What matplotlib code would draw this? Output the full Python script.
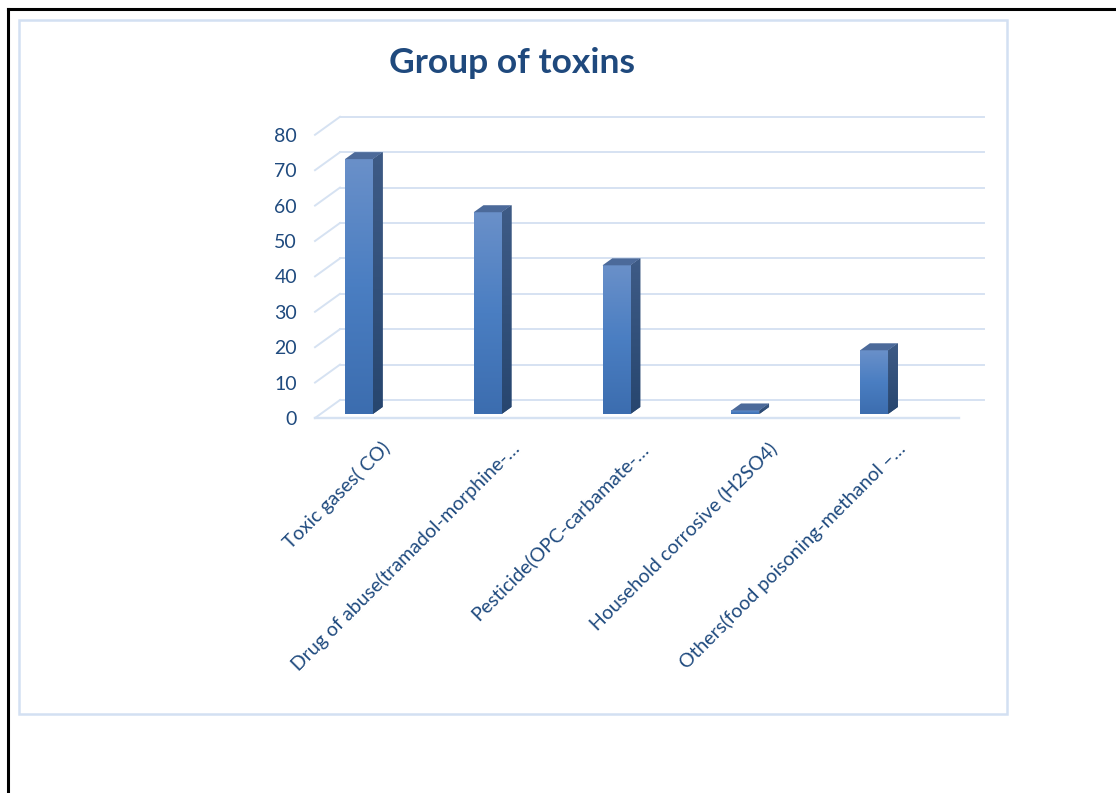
"""
Group of toxins: 3-D style column chart drawn on a flat axes.
"""

import matplotlib

matplotlib.use("Agg")
import matplotlib.pyplot as plt
import numpy as np
from matplotlib.colors import LinearSegmentedColormap
from matplotlib.lines import Line2D
from matplotlib.patches import Polygon, Rectangle

plt.rcParams["font.family"] = ["Lato", "DejaVu Sans"]

categories = [
    "Toxic gases( CO)",
    "Drug of abuse(tramadol-morphine-\u2026",
    "Pesticide(OPC-carbamate-\u2026",
    "Household corrosive (H2SO4)",
    "Others(food poisoning-methanol \u2013\u2026",
]
counts = [72, 57, 42, 1, 18]
y_ticks = [0, 10, 20, 30, 40, 50, 60, 70, 80]

TEXT_BLUE = "#1F4A7E"
GRID = "#D6E2F2"

# figure is 1116 x 793 px; layout below is in pixels
W, H = 1116, 793
PX_CAT = 128.8  # pixels per category
PX_VAL = 3.54  # pixels per unit value
# oblique depth: back wall sits 25 px right and 18 px up of the front plane
DX = 25 / PX_CAT
DY = 18 / PX_VAL
D_FRONT, D_BACK = 4 / 18, 11 / 18  # bar depth range (0 = front, 1 = back)
BAR_W = 28 / PX_CAT
FLOOR = (-0.298, 4.702)


def proj(x, v, d):
    return x + d * DX, v + d * DY


fig = plt.figure(figsize=(W / 100, H / 100), dpi=100)

# frame lines and chart-area border
fig.add_artist(Line2D([8 / W, 8 / W], [0, 1 - 9 / H], color="black", lw=2.2,
                      transform=fig.transFigure))
fig.add_artist(Line2D([8 / W, 1], [1 - 9 / H, 1 - 9 / H], color="black", lw=2.2,
                      transform=fig.transFigure))
fig.add_artist(Rectangle((19 / W, 1 - 714 / H), (1007 - 19) / W, (714 - 20) / H,
                         fill=False, ec="#D3E0F2", lw=1.8, transform=fig.transFigure))

ax_l, ax_r, ax_t, ax_b = 315, 983, 117, 418
ax = fig.add_axes([ax_l / W, 1 - ax_b / H, (ax_r - ax_l) / W, (ax_b - ax_t) / H])
xlim = (FLOOR[0], FLOOR[0] + (ax_r - ax_l) / PX_CAT)
ylim = (0, (ax_b - ax_t) / PX_VAL)

# back wall gridlines and left wall diagonals
for v in y_ticks:
    x0, y0 = proj(FLOOR[0], v, 1)
    x1, y1 = proj(FLOOR[1], v, 1)
    ax.plot([x0, x1], [y0, y1], color=GRID, lw=1.4, clip_on=False, zorder=1)
    fx, fy = proj(FLOOR[0], v, 0)
    ax.plot([fx, x0], [fy, y0], color=GRID, lw=1.4, clip_on=False, zorder=1)
# front floor edge
ax.plot(FLOOR, [0, 0], color=GRID, lw=1.7, clip_on=False, zorder=1)

front_cmap = LinearSegmentedColormap.from_list("front", ["#3C6DAF", "#4A7EC2", "#6A90C9"])
side_cmap = LinearSegmentedColormap.from_list("side", ["#27466F", "#3E5B86"])
grad = np.linspace(0, 1, 256).reshape(-1, 1)

xs = np.arange(len(counts)) + D_FRONT * DX
base = D_FRONT * DY
bars = ax.bar(xs, counts, width=BAR_W, bottom=base, color="#4A7EC2",
              linewidth=0, zorder=3, clip_on=False)
dd = D_BACK - D_FRONT
for bar, x, v in zip(bars, xs, counts):
    xl, xr = x - BAR_W / 2, x + BAR_W / 2
    top = base + v
    img = ax.imshow(grad, cmap=front_cmap, origin="lower", aspect="auto",
                    extent=(xl, xr, base, top), zorder=3, interpolation="bilinear")
    img.set_clip_path(bar)
    side = Polygon([(xr, base), (xr + dd * DX, base + dd * DY),
                    (xr + dd * DX, top + dd * DY), (xr, top)], closed=True,
                   fc="#2F4E79", ec="none", zorder=2.9, clip_on=False)
    ax.add_patch(side)
    simg = ax.imshow(grad, cmap=side_cmap, origin="lower", aspect="auto",
                     extent=(xr, xr + dd * DX, base, top + dd * DY), zorder=2.95,
                     interpolation="bilinear")
    simg.set_clip_path(side)
    ax.add_patch(Polygon([(xl, top), (xr, top), (xr + dd * DX, top + dd * DY),
                          (xl + dd * DX, top + dd * DY)], closed=True,
                         fc="#4C6A9A", ec="none", zorder=3.1, clip_on=False))

# rotated category labels hang below each column
for x, label in zip(xs, categories):
    ax.text(x + 33 / PX_CAT, -31.5 / PX_VAL, label, rotation=45, rotation_mode="anchor",
            ha="right", va="baseline", fontsize=14, color=TEXT_BLUE, clip_on=False)

ax.set_xlim(xlim)
ax.set_ylim(ylim)
ax.set_yticks(y_ticks)
ax.set_yticklabels([str(t) for t in y_ticks], fontsize=14, color=TEXT_BLUE)
ax.tick_params(axis="y", length=0, pad=13)
ax.set_xticks([])
for s in ax.spines.values():
    s.set_visible(False)
ax.patch.set_alpha(0)

fig.text(512 / W, 1 - 63 / H, "Group of toxins", ha="center", va="center",
         fontsize=25.5, fontweight="bold", color="#1F497D")

fig.savefig("out.png", dpi=100)
plt.close(fig)
